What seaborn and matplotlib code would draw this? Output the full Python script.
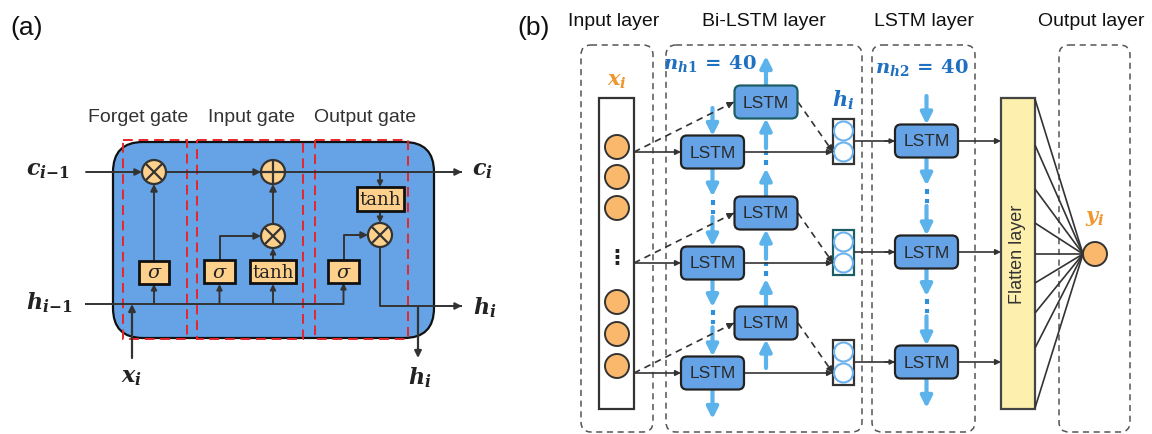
import matplotlib.pyplot as plt
import seaborn as sns
from matplotlib.patches import FancyBboxPatch, Rectangle, Circle, FancyArrowPatch

sns.set_style('white')
plt.rcParams['font.family'] = ['Liberation Sans', 'DejaVu Sans']
plt.rcParams['mathtext.fontset'] = 'custom'
plt.rcParams['mathtext.it'] = 'DejaVu Serif:italic:bold'
plt.rcParams['mathtext.rm'] = 'DejaVu Serif:bold'
plt.rcParams['mathtext.bf'] = 'DejaVu Serif:bold'

# texts of the figure
panel_labels = ['(a)', '(b)']
gate_names = ['Forget gate', 'Input gate', 'Output gate']
cell_inputs = [r'$c_{i{-}1}$', r'$h_{i{-}1}$', r'$x_i$']
cell_outputs = [r'$c_i$', r'$h_i$', r'$h_i$']
gate_funcs = ['σ', 'σ', 'tanh', 'σ', 'tanh']
layer_titles = ['Input layer', 'Bi-LSTM layer', 'LSTM layer', 'Output layer']
unit_labels = [r'$n_{h1}\,=\,40$', r'$n_{h2}\,=\,40$']
node_labels = [r'$x_i$', r'$h_i$', r'$y_i$']
block_name = 'LSTM'
flatten_name = 'Flatten layer'

# colours
CELL = '#66a3e6'
GATE = '#fdd08c'
NODE = '#f9b86b'
LBLUE = '#5cb3ec'
DBLUE = '#2f8fd8'
ORANGE = '#f0962e'
TXTBLUE = '#1f70c0'
DARK = '#333333'
RED = '#e5262a'

fig = plt.figure(figsize=(11.52, 4.34), dpi=100)
ax = fig.add_axes([0, 0, 1, 1])
ax.set_xlim(0, 1152)
ax.set_ylim(434, 0)
ax.axis('off')


def arrow(x0, y0, x1, y1, color=DARK, lw=1.4, ms=10, z=6):
    ax.add_patch(FancyArrowPatch((x0, y0), (x1, y1), arrowstyle='-|>', mutation_scale=ms,
                                 color=color, lw=lw, shrinkA=0, shrinkB=0, zorder=z))


def line(xs, ys, color=DARK, lw=1.4, z=6, **kw):
    ax.plot(xs, ys, color=color, lw=lw, zorder=z, solid_capstyle='butt', **kw)


def dashed_arrow(x0, y0, x1, y1):
    line([x0, x1], [y0, y1], color=DARK, lw=1.2, dashes=(4, 3))
    fx = x1 - (x1 - x0) * 0.06
    fy = y1 - (y1 - y0) * 0.06
    arrow(fx, fy, x1, y1, lw=1.2, ms=9)


def op(x, y, kind, r=12):
    ax.add_patch(Circle((x, y), r, fc=GATE, ec=DARK, lw=1.6, zorder=7))
    if kind == 'x':
        d = r * 0.707
        line([x - d, x + d], [y - d, y + d], lw=1.6, z=8)
        line([x - d, x + d], [y + d, y - d], lw=1.6, z=8)
    else:
        line([x - r, x + r], [y, y], lw=1.6, z=8)
        line([x, x], [y - r, y + r], lw=1.6, z=8)


def gate(x0, x1, y0, y1, txt):
    ax.add_patch(Rectangle((x0, y0), x1 - x0, y1 - y0, fc=GATE, ec='#111111', lw=2, zorder=7))
    if txt == 'σ':
        ax.text((x0 + x1) / 2, (y0 + y1) / 2 + 1, txt, family='DejaVu Serif', style='italic',
                fontsize=14, ha='center', va='center', zorder=8, color='#222222')
    else:
        ax.text((x0 + x1) / 2, (y0 + y1) / 2 + 1, txt, family='DejaVu Serif',
                fontsize=13, ha='center', va='center', zorder=8, color='#222222')


def lstm(cx, cy, ec='#222222'):
    ax.add_patch(FancyBboxPatch((cx - 31.5, cy - 16.5), 63, 33,
                                boxstyle='round,pad=0,rounding_size=6',
                                fc=CELL, ec=ec, lw=1.6, zorder=7))
    ax.text(cx, cy + 1, block_name, fontsize=12.5, ha='center', va='center',
            color='#2a2a2a', zorder=8)


def blue_arrow(x, y0, y1):
    arrow(x, y0, x, y1, color=LBLUE, lw=3, ms=17, z=5)


def blue_gap(x, a, b):
    # arrow, dotted link, arrow between two stacked blocks
    blue_arrow(x, a, a + (b - a) * 0.36)
    line([x, x], [a + (b - a) * 0.4, a + (b - a) * 0.58], color=DBLUE, lw=3, z=5, dashes=(1.2, 1.2))
    blue_arrow(x, a + (b - a) * 0.62, b)


# ---------------- panel (a) ----------------
ax.text(27, 28, panel_labels[0], fontsize=19, ha='center', va='center', color='#111111')
ax.add_patch(FancyBboxPatch((113, 142), 321, 196, boxstyle='round,pad=0,rounding_size=30',
                            fc=CELL, ec='#111111', lw=1.6, zorder=1))
gate_x = [(123, 187), (197, 303), (315, 408)]
gate_txt_x = [138, 251, 365]
for (x0, x1), tx, name in zip(gate_x, gate_txt_x, gate_names):
    ax.add_patch(Rectangle((x0, 140), x1 - x0, 199, fill=False, ec=RED, lw=1.4,
                           ls=(0, (5, 3)), zorder=2))
    ax.text(tx, 118, name, fontsize=14, ha='center', va='center', color='#333333')

# cell state line
arrow(86, 172, 142, 172)
line([166, 262], [172, 172])
arrow(250, 172, 261, 172)
line([285, 462], [172, 172])
arrow(450, 172, 462, 172)
op(154, 172, 'x')
op(273, 172, '+')

# hidden state input
line([85, 343], [304, 304])
for gx in [154, 219.5, 273]:
    arrow(gx, 304, gx, 284, ms=8)
arrow(343.5, 304, 343.5, 283, ms=8)
arrow(132, 358, 132, 304, lw=1.6, ms=10)

# forget
gate(139, 169, 261, 284, gate_funcs[0])
arrow(154, 261, 154, 184)
# input
gate(204, 235, 260, 283, gate_funcs[1])
gate(250, 296, 260, 283, gate_funcs[2])
line([219.5, 219.5, 255], [260, 236, 236])
arrow(250, 236, 261, 236)
arrow(273, 260, 273, 248, ms=8)
op(273, 236, 'x')
arrow(273, 224, 273, 184)
# output
gate(357, 404, 187, 211, gate_funcs[4])
arrow(380, 172, 380, 187, ms=8)
arrow(380, 211, 380, 223, ms=8)
gate(328, 359, 260, 283, gate_funcs[3])
line([343.5, 343.5, 360], [260, 235, 235])
arrow(356, 235, 368, 235)
op(380, 235, 'x')
line([380, 380, 462], [247, 306, 306])
arrow(450, 306, 462, 306)
arrow(418, 306, 418, 358, lw=1.6, ms=10)

ax.text(70, 171, cell_inputs[0], fontsize=16, ha='right', va='center', color='#222222')
ax.text(72, 303, cell_inputs[1], fontsize=16, ha='right', va='center', color='#222222')
ax.text(131, 378, cell_inputs[2], fontsize=16, ha='center', va='center', color='#222222')
ax.text(472, 171, cell_outputs[0], fontsize=16, ha='left', va='center', color='#222222')
ax.text(473, 308, cell_outputs[1], fontsize=16, ha='left', va='center', color='#222222')
ax.text(420, 378, cell_outputs[2], fontsize=16, ha='center', va='center', color='#222222')

# ---------------- panel (b) ----------------
ax.text(534, 28, panel_labels[1], fontsize=19, ha='center', va='center', color='#111111')
layer_boxes = [(581, 653), (666, 862), (872, 975), (1059, 1130)]
title_x = [614, 764, 924, 1091]
for (x0, x1), tx, name in zip(layer_boxes, title_x, layer_titles):
    ax.add_patch(FancyBboxPatch((x0, 45), x1 - x0, 387, boxstyle='round,pad=0,rounding_size=10',
                                fill=False, ec='#555555', lw=1.1, ls=(0, (4, 3)), zorder=2))
    ax.text(tx, 21, name, fontsize=14, ha='center', va='center', color='#111111')

# input column
ax.add_patch(Rectangle((599, 98), 35, 311, fc='white', ec='#333333', lw=1.6, zorder=3))
for cy in [147, 177, 208, 302, 334, 366]:
    ax.add_patch(Circle((617, cy), 12, fc=NODE, ec='#333333', lw=1.4, zorder=4))
ax.text(617, 257, '⋮', family='DejaVu Sans', fontsize=15, fontweight='bold',
        ha='center', va='center', color='#222222', zorder=4)
ax.text(617, 82, node_labels[0], fontsize=15, color=ORANGE, ha='center', va='center')

fwd_y = [152, 263, 373]
bwd_y = [102, 213, 323]
lstm2_y = [141, 252, 362]
fx, bx, l2x = 712.5, 766, 926.5

# vertical recurrent arrows
blue_arrow(fx, 108, 136)
for k in range(2):
    blue_gap(fx, fwd_y[k] + 16.5, fwd_y[k + 1] - 16.5)
blue_arrow(fx, fwd_y[2] + 16.5, 419)
blue_arrow(bx, bwd_y[0] - 16.5, 56)
for k in range(2):
    blue_gap(bx, bwd_y[k + 1] - 16.5, bwd_y[k] + 16.5)
blue_arrow(bx, 368, bwd_y[2] + 16.5)
blue_arrow(l2x, 96, 124.5)
for k in range(2):
    blue_gap(l2x, lstm2_y[k] + 16.5, lstm2_y[k + 1] - 16.5)
blue_arrow(l2x, lstm2_y[2] + 16.5, 408)

for k in range(3):
    fy, by, ly = fwd_y[k], bwd_y[k], lstm2_y[k]
    arrow(634, fy, 681, fy, lw=1.2, ms=8)
    dashed_arrow(634, fy, 734, by)
    lstm(fx, fy)
    lstm(bx, by, ec='#1d5e66' if k == 0 else '#222222')
    arrow(744, fy, 833, fy, lw=1.2, ms=8)
    dashed_arrow(798, by, 833, fy)
    ax.add_patch(Rectangle((833, fy - 33), 21, 45, fc='white', ec='#1d5e66' if k == 1 else '#333333',
                           lw=1.6, zorder=3))
    for cy in [fy - 21, fy]:
        ax.add_patch(Circle((843.5, cy), 9.5, fc='white', ec='#6cb2ee', lw=1.5, zorder=4))
    line([854, 895], [ly, ly], lw=1.2)
    arrow(885, ly, 895, ly, lw=1.2, ms=7)
    lstm(l2x, ly)
    arrow(958, ly, 1001, ly, lw=1.2, ms=8)

ax.text(843, 100, node_labels[1], fontsize=15, color=TXTBLUE, ha='center', va='center')
ax.text(710, 64, unit_labels[0], fontsize=14, color=TXTBLUE, ha='center', va='center')
ax.text(922, 67, unit_labels[1], fontsize=14, color=TXTBLUE, ha='center', va='center')

# flatten and output
ax.add_patch(Rectangle((1001, 98), 34, 311, fc='#fdefad', ec='#444444', lw=1.6, zorder=3))
ax.text(1018, 254, flatten_name, rotation=90, fontsize=13, ha='center', va='center',
        color='#333333', zorder=4)
for ly in [99, 145, 189, 223, 254, 283, 313, 348, 408]:
    line([1035, 1083], [ly, 254], lw=1.2, z=3)
ax.add_patch(Circle((1095, 254), 12, fc=NODE, ec='#333333', lw=1.4, zorder=4))
ax.text(1095, 218, node_labels[2], fontsize=15, color=ORANGE, ha='center', va='center')

fig.savefig('out.png', dpi=100)
